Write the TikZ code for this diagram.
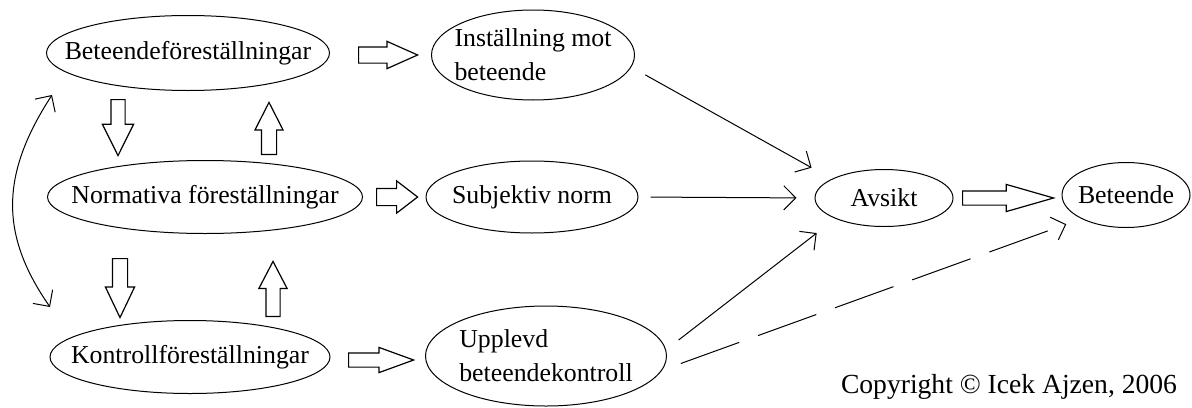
\documentclass[tikz,border=0pt]{standalone}
\usepackage{fontspec}
\setmainfont{Liberation Serif}
\usetikzlibrary{arrows.meta,shapes.geometric,shapes.arrows}

\tikzset{
oval/.style 2 args={ellipse, draw, line width=0.5pt, inner sep=0pt, minimum width=#1, minimum height=#2},
barrow/.style n args={4}{single arrow, draw, line width=0.6pt, fill=white, anchor=tail, inner sep=#3, minimum height=#1, minimum width=0pt, single arrow head extend=#2, single arrow tip angle=#4},
conn/.style={-{Straight Barb[length=6pt,width=12pt]}, line width=0.5pt}
}

\begin{document}
\begin{tikzpicture}[x=0.5pt,y=-0.5pt,font=\fontsize{12.9}{17}\selectfont]
\useasboundingbox (0,0) rectangle (1192,407);

% left column
\node[oval={141.5pt}{37.5pt}, label=center:Beteendeföreställningar] (bf) at (188,53) {};
\node[oval={157.5pt}{36.5pt}, label=center:Normativa föreställningar] (nf) at (205,197) {};
\node[oval={140pt}{36.5pt}, label=center:Kontrollföreställningar] (kf) at (190,357) {};

% middle column
\node[oval={101.5pt}{45pt}, label={[align=left]center:Inställning mot\\beteende}] (im) at (533,55) {};
\node[oval={106pt}{36pt}, label=center:Subjektiv norm] (sn) at (532,197) {};
\node[oval={120.5pt}{50pt}, label={[align=left]center:Upplevd\\beteendekontroll}] (ub) at (546,356) {};

% right
\node[oval={69pt}{28.5pt}, label=center:Avsikt] (av) at (884,198) {};
\node[oval={64pt}{32.5pt}, label=center:Beteende] (be) at (1126,195) {};

% block arrows
\node[barrow={29.5pt}{2.75pt}{3.75pt}{48}] (a1) at (358,55) {};
\node[barrow={20.5pt}{3.75pt}{4pt}{75}] (a2) at (376,197) {};
\node[barrow={32.5pt}{2.75pt}{3.25pt}{40}] (a3) at (348,360) {};
\node[barrow={45.5pt}{3.25pt}{3.25pt}{32}] (a4) at (962,198) {};
\node[barrow={28pt}{4.25pt}{3.25pt}{53}, rotate=-90] (d1) at (118,99) {};
\node[barrow={26pt}{3.25pt}{3.5pt}{54}, rotate=90] (u1) at (269,155) {};
\node[barrow={29.5pt}{3.5pt}{3.5pt}{51}, rotate=-90] (d2) at (120,258) {};
\node[barrow={27.5pt}{3.5pt}{3.25pt}{55}, rotate=90] (u2) at (273,317) {};

% line arrows
\draw[conn, shorten <=8pt, shorten >=11.5pt] (im.-7) -- (av.160);
\draw[conn, shorten <=6pt, shorten >=9pt] (sn.east) -- (av.west);
\draw[conn, shorten <=7.9pt, shorten >=11.75pt] (ub.3) -- (av.203.6);
\draw[conn, dash pattern=on 31pt off 10pt, shorten <=10pt, shorten >=8pt] (ub.-7.3) -- (be.208.2);

\coordinate (ct) at (52,95);
\coordinate (cb) at (50,307);
\draw[conn, {Straight Barb[length=6pt,width=12pt]}-{Straight Barb[length=6pt,width=12pt]}] (ct) .. controls (0,175) and (0,235) .. (cb);

\node[font=\fontsize{13.8}{17}\selectfont] (cr) at (1009,387) {Copyright © Icek Ajzen, 2006};
\end{tikzpicture}
\end{document}
